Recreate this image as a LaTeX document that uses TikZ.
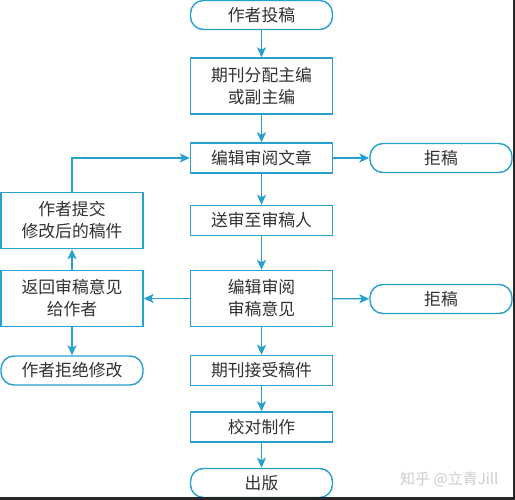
\documentclass[tikz,border=0pt]{standalone}
\usepackage{fontspec}
\setmainfont{Noto Sans CJK SC}
\usetikzlibrary{arrows.meta}
\definecolor{flow}{RGB}{38,160,206}
\definecolor{txt}{RGB}{50,50,50}
\definecolor{wm}{RGB}{205,205,205}
\begin{document}
\begin{tikzpicture}[x=1pt,y=-1pt,
  base/.style={draw=flow, line width=1.4pt, text=txt, inner sep=0pt, minimum width=142pt,
    font=\fontsize{16.8pt}{22pt}\selectfont, align=center},
  boxa/.style={base, minimum height=30pt},
  boxb/.style={base, minimum height=56pt},
  pill/.style={base, minimum height=29pt, rounded corners=13pt},
  arr/.style={draw=flow, line width=1.4pt, -{Stealth[length=10pt,width=9pt,inset=2.5pt]}}]
\useasboundingbox (0,0) rectangle (515,500);
\fill[white] (0,0) rectangle (515,500);
% center column
\node[pill] (a1) at (261.5,15) {作者投稿};
\node[boxb] (a2) at (261.5,86) {期刊分配主编\\或副主编};
\node[boxa] (a3) at (261.5,158) {编辑审阅文章};
\node[boxa] (a4) at (261.5,220.5) {送审至审稿人};
\node[boxb] (a5) at (261.5,298.5) {编辑审阅\\审稿意见};
\node[boxa] (a6) at (261.5,370.5) {期刊接受稿件};
\node[boxa] (a7) at (261.5,427) {校对制作};
\node[pill] (a8) at (261.5,483) {出版};
% right column
\node[pill] (r1) at (441,158) {拒稿};
\node[pill] (r2) at (441,299) {拒稿};
% left column
\node[boxb] (l1) at (72,220.5) {作者提交\\修改后的稿件};
\node[boxb] (l2) at (72,298.5) {返回审稿意见\\给作者};
\node[pill] (l3) at (72,370.5) {作者拒绝修改};
% connectors
\draw[arr] (a1) -- (a2);
\draw[arr] (a2) -- (a3);
\draw[arr] (a3) -- (a4);
\draw[arr] (a3) -- (r1);
\draw[arr] (a4) -- (a5);
\draw[arr] (a5) -- (r2);
\draw[arr] (a5) -- (l2);
\draw[arr] (a5) -- (a6);
\draw[arr] (a6) -- (a7);
\draw[arr] (a7) -- (a8);
\draw[arr] (l2) -- (l1);
\draw[arr] (l2) -- (l3);
\draw[arr] (l1.north) |- (a3.west);
% watermark
\node[text=wm, font=\fontsize{15pt}{15pt}\selectfont, anchor=west, inner sep=0pt] (wmark) at (400,479) {知乎 @立青Jill};
% frame edges
\fill[black!85] (512.8,0) rectangle (515,500);
\fill[black!85] (0,497) rectangle (515,500);
\end{tikzpicture}
\end{document}
